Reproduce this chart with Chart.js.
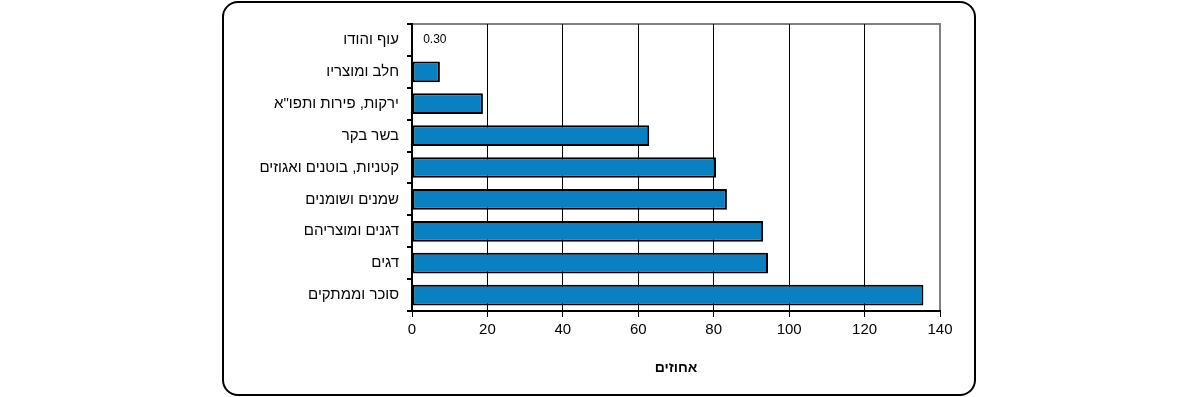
<!DOCTYPE html>
<html>
<head>
<meta charset="utf-8">
<script src="https://cdn.jsdelivr.net/npm/chart.js@4"></script>
<style>
  html, body { margin: 0; padding: 0; background: #fff; }
  #wrap { position: relative; width: 1200px; height: 397px; }
  #frame {
    position: absolute; left: 222px; top: 1px; width: 750px; height: 391px;
    border: 2.5px solid #000; border-radius: 16px; pointer-events: none;
  }
  canvas { position: absolute; left: 0; top: 0; }
</style>
</head>
<body>
<div id="wrap">
  <canvas id="chart" width="1200" height="397"></canvas>
  <div id="frame"></div>
</div>
<script>
const categories = [
  "עוף והודו",
  "חלב ומוצריו",
  "ירקות, פירות ותפו\"א",
  "בשר בקר",
  "קטניות, בוטנים ואגוזים",
  "שמנים ושומנים",
  "דגנים ומוצריהם",
  "דגים",
  "סוכר וממתקים"
];
const values = [0.3, 7.4, 18.8, 62.9, 80.6, 83.5, 93.1, 94.4, 135.6];
const xTicks = [0, 20, 40, 60, 80, 100, 120, 140];
const axisTitle = "אחוזים";
const shownLabel = { index: 0, text: "0.30" };

// gray frame on top and right of the plot area
const plotFrame = {
  id: "plotFrame",
  beforeDraw(c) {
    const a = c.chartArea, ctx = c.ctx;
    ctx.save();
    ctx.strokeStyle = "#808080";
    ctx.lineWidth = 2;
    ctx.strokeRect(a.left, a.top, a.right - a.left, a.bottom - a.top);
    ctx.restore();
  }
};

// the single value label next to the smallest bar
const valueLabel = {
  id: "valueLabel",
  afterDatasetsDraw(c) {
    const bar = c.getDatasetMeta(0).data[shownLabel.index];
    const ctx = c.ctx;
    ctx.save();
    ctx.font = "12px 'Liberation Sans', Arial, sans-serif";
    ctx.fillStyle = "#000";
    ctx.textAlign = "left";
    ctx.textBaseline = "middle";
    ctx.fillText(shownLabel.text, bar.x + 10, bar.y);
    ctx.restore();
  }
};

const font = "'Liberation Sans', Arial, sans-serif";

new Chart(document.getElementById("chart"), {
  type: "bar",
  data: {
    labels: categories,
    datasets: [{
      data: values,
      backgroundColor: "#0880C2",
      borderColor: "#000",
      borderWidth: 2,
      borderSkipped: false,
      categoryPercentage: 1,
      barPercentage: 0.65
    }]
  },
  options: {
    indexAxis: "y",
    responsive: false,
    animation: false,
    layout: { padding: { left: 230, right: 260, top: 24, bottom: 16 } },
    plugins: { legend: { display: false }, tooltip: { enabled: false } },
    scales: {
      x: {
        min: 0, max: 140,
        afterBuildTicks: s => { s.ticks = xTicks.map(v => ({ value: v })); },
        afterFit: s => { s.height = 70; },
        grid: {
          color: ctx => (ctx.tick && ctx.tick.value === 140) ? "#808080" : "#000",
          tickColor: "#000",
          lineWidth: 1,
          tickLength: 6
        },
        border: { color: "#000", width: 2 },
        ticks: { color: "#000", font: { family: font, size: 15 }, padding: 4, maxRotation: 0 },
        title: {
          display: true, text: axisTitle, color: "#000",
          font: { family: font, size: 14, weight: "bold" },
          padding: { top: 20 }
        }
      },
      y: {
        afterFit: s => { s.width = 182; },
        grid: { drawOnChartArea: false, offset: true, tickLength: 5, tickColor: "#000", lineWidth: 2 },
        border: { color: "#000", width: 2 },
        ticks: { color: "#000", font: { family: font, size: 15 }, padding: 8 }
      }
    }
  },
  plugins: [plotFrame, valueLabel]
});
</script>
</body>
</html>
